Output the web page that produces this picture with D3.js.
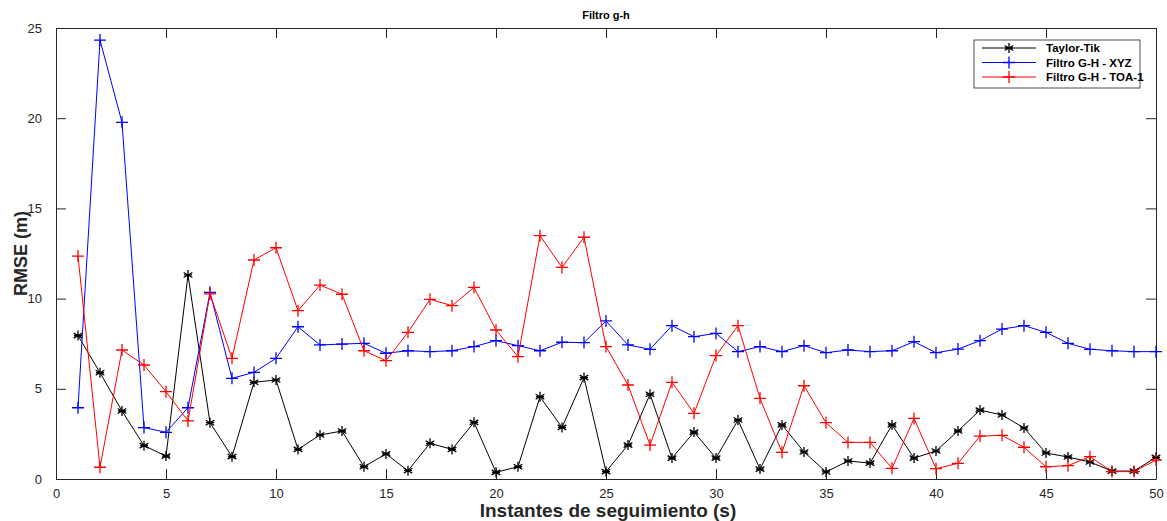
<!DOCTYPE html>
<html>
<head>
<meta charset="utf-8">
<script src="https://cdn.jsdelivr.net/npm/d3@7"></script>
<style>
  body { margin: 0; background: #fff; }
  svg { font-family: "Liberation Sans", Arial, sans-serif; }
</style>
</head>
<body>
<script>
let instants = d3.range(1, 51);

let taylorTik = [7.95, 5.89, 3.77, 1.85, 1.27, 11.31, 3.12, 1.24, 5.36, 5.49,
  1.64, 2.44, 2.66, 0.68, 1.39, 0.46, 1.98, 1.64, 3.14, 0.37,
  0.68, 4.56, 2.86, 5.62, 0.41, 1.88, 4.7, 1.16, 2.6, 1.16,
  3.27, 0.55, 3.0, 1.5, 0.39, 1.0, 0.88, 3.0, 1.16, 1.55,
  2.66, 3.82, 3.55, 2.83, 1.44, 1.22, 0.94, 0.44, 0.44, 1.2];

let filtroXYZ = [3.95, 24.33, 19.77, 2.85, 2.59, 3.95, 10.35, 5.58, 5.91, 6.69,
  8.44, 7.43, 7.48, 7.52, 6.97, 7.11, 7.06, 7.11, 7.34, 7.67,
  7.39, 7.11, 7.58, 7.56, 8.76, 7.43, 7.19, 8.5, 7.89, 8.07,
  7.06, 7.34, 7.06, 7.39, 7.0, 7.15, 7.06, 7.11, 7.61, 7.0,
  7.2, 7.67, 8.31, 8.5, 8.13, 7.52, 7.19, 7.11, 7.06, 7.06];

let filtroTOA = [12.36, 0.65, 7.15, 6.32, 4.84, 3.22, 10.26, 6.69, 12.14, 12.82,
  9.33, 10.75, 10.24, 7.11, 6.56, 8.13, 9.96, 9.61, 10.62, 8.26,
  6.78, 13.49, 11.73, 13.4, 7.34, 5.21, 1.88, 5.36, 3.64, 6.84,
  8.5, 4.47, 1.48, 5.17, 3.12, 2.03, 2.03, 0.59, 3.36, 0.57,
  0.87, 2.38, 2.42, 1.76, 0.68, 0.74, 1.24, 0.41, 0.41, 1.05];

let xTicks = d3.range(0, 51, 5);
let yTicks = d3.range(0, 26, 5);

let series = [
  {name: "Taylor-Tik", values: taylorTik, color: "#000000", marker: "star"},
  {name: "Filtro G-H - XYZ", values: filtroXYZ, color: "#0000ff", marker: "plus"},
  {name: "Filtro G-H - TOA-1", values: filtroTOA, color: "#ff0000", marker: "plus"}
];

let width = 1167;
let height = 521;
let margins = {top: 28, right: 11, bottom: 42, left: 56};

let xScale = d3.scaleLinear([0, 50], [margins.left, width - margins.right]);
let yScale = d3.scaleLinear([0, 25], [height - margins.bottom, margins.top]);

let svg = d3.create("svg")
  .attr("width", width)
  .attr("height", height);

let axisColor = "#262626";
let tickLen = 10;

// bottom / left axes with inward ticks
let xAxis = d3.axisBottom(xScale).tickValues(xTicks).tickSize(-tickLen).tickPadding(10).tickSizeOuter(0);
let yAxis = d3.axisLeft(yScale).tickValues(yTicks).tickSize(-tickLen).tickPadding(14).tickSizeOuter(0);

let gx = svg.append("g")
  .attr("transform", `translate(0,${height - margins.bottom})`)
  .call(xAxis);
let gy = svg.append("g")
  .attr("transform", `translate(${margins.left},0)`)
  .call(yAxis);

for (let g of [gx, gy]) {
  g.selectAll("text").attr("font-size", 13).attr("fill", "#262626")
    .attr("font-family", "'Liberation Sans', Arial, sans-serif");
  g.selectAll("line").attr("stroke", axisColor);
  g.select(".domain").attr("stroke", axisColor);
}

// top / right ticks without labels
svg.append("g")
  .attr("transform", `translate(0,${margins.top})`)
  .call(d3.axisTop(xScale).tickValues(xTicks).tickSize(-tickLen).tickFormat("").tickSizeOuter(0))
  .call(g => g.selectAll("line,path").attr("stroke", axisColor));
svg.append("g")
  .attr("transform", `translate(${width - margins.right},0)`)
  .call(d3.axisRight(yScale).tickValues(yTicks).tickSize(-tickLen).tickFormat("").tickSizeOuter(0))
  .call(g => g.selectAll("line,path").attr("stroke", axisColor));

let line = d3.line()
  .x((d, i) => xScale(instants[i]))
  .y(d => yScale(d));

function drawMarker(g, type, color, size) {
  let h = size / 2;
  if (type === "plus") {
    g.append("path")
      .attr("d", `M${-h},0H${h}M0,${-h}V${h}`)
      .attr("stroke", color).attr("stroke-width", 1.3).attr("fill", "none");
  } else {
    let p = "";
    for (let a of [0, 60, 120]) {
      let r = a * Math.PI / 180;
      p += `M${-h * Math.sin(r)},${-h * Math.cos(r)}L${h * Math.sin(r)},${h * Math.cos(r)}`;
    }
    p += `M${-h * 0.8},0H${h * 0.8}`;
    g.append("path")
      .attr("d", p)
      .attr("stroke", color).attr("stroke-width", 1.3).attr("fill", "none");
  }
}

for (let s of series) {
  svg.append("path")
    .datum(s.values)
    .attr("d", line)
    .attr("fill", "none")
    .attr("stroke", s.color)
    .attr("stroke-width", 1);
  svg.append("g")
    .selectAll("g")
    .data(s.values)
    .join("g")
    .attr("transform", (d, i) => `translate(${xScale(instants[i])},${yScale(d)})`)
    .each(function() {
      drawMarker(d3.select(this), s.marker, s.color, s.marker === "plus" ? 12 : 10);
    });
}

// title
svg.append("text")
  .text("Filtro g-h")
  .attr("x", (margins.left + width - margins.right) / 2)
  .attr("y", 19)
  .attr("font-size", 11)
  .attr("font-weight", "bold")
  .attr("text-anchor", "middle")
  .attr("fill", "#000");

// axis labels
svg.append("text")
  .text("Instantes de seguimiento (s)")
  .attr("x", 608)
  .attr("y", 517)
  .attr("font-size", 19)
  .attr("font-weight", "bold")
  .attr("text-anchor", "middle")
  .attr("fill", "#262626");

svg.append("text")
  .text("RMSE (m)")
  .attr("transform", "rotate(-90)")
  .attr("x", -(margins.top + height - margins.bottom) / 2)
  .attr("y", 27)
  .attr("font-size", 18)
  .attr("font-weight", "bold")
  .attr("text-anchor", "middle")
  .attr("fill", "#262626");

// legend
let legend = svg.append("g").attr("transform", "translate(974,40)");
legend.append("rect")
  .attr("width", 166).attr("height", 48)
  .attr("fill", "#fff").attr("stroke", axisColor).attr("stroke-width", 0.8);

series.forEach((s, i) => {
  let y = 8 + i * 14.5;
  legend.append("line")
    .attr("x1", 8).attr("x2", 62).attr("y1", y).attr("y2", y)
    .attr("stroke", s.color).attr("stroke-width", 1);
  drawMarker(legend.append("g").attr("transform", `translate(35,${y})`), s.marker, s.color, s.marker === "plus" ? 12 : 10);
  legend.append("text")
    .text(s.name)
    .attr("x", 72).attr("y", y + 4)
    .attr("font-size", 11.5)
    .attr("font-weight", "bold")
    .attr("fill", "#000");
});

document.body.append(svg.node());
</script>
</body>
</html>
